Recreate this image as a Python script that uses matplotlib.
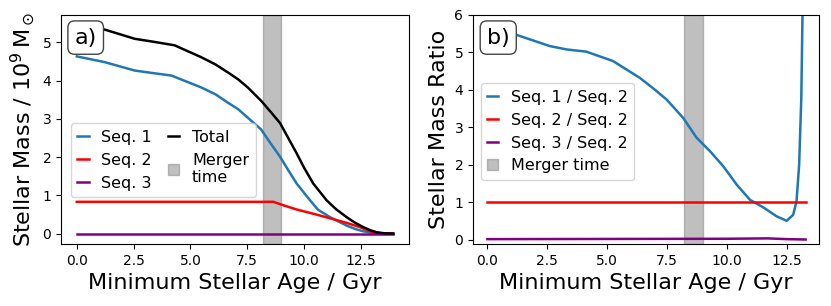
import matplotlib
matplotlib.use("Agg")
import matplotlib.pyplot as plt

# ---- data ----
age_tot = [0.0, 1.23, 2.55, 3.4, 4.3, 5.47, 6.1, 6.65, 7.1, 7.52, 8.11, 8.5, 8.94, 9.3, 9.67, 10.0, 10.4, 10.99, 11.4, 11.87, 12.25, 12.6, 12.9, 13.19, 13.5, 13.92]
total = [5.44, 5.33, 5.09, 5.01, 4.92, 4.61, 4.42, 4.21, 4.03, 3.82, 3.47, 3.20, 2.89, 2.50, 2.10, 1.72, 1.31, 0.87, 0.64, 0.43, 0.28, 0.17, 0.09, 0.035, 0.01, 0.0]

age_s1 = [0.0, 1.23, 2.55, 3.4, 4.16, 5.47, 6.1, 6.65, 7.1, 7.52, 8.11, 8.5, 8.94, 9.3, 9.67, 10.26, 10.62, 11.14, 11.5, 11.87, 12.25, 12.6, 12.9, 13.19, 13.5, 13.92]
seq1 = [4.63, 4.48, 4.26, 4.19, 4.13, 3.82, 3.64, 3.42, 3.25, 3.03, 2.72, 2.38, 2.01, 1.66, 1.31, 0.87, 0.62, 0.43, 0.32, 0.21, 0.12, 0.06, 0.03, 0.01, 0.0, 0.0]

age_s2 = [0.0, 4.0, 8.0, 8.65, 9.09, 9.67, 10.4, 11.14, 11.87, 12.45, 12.9, 13.33, 13.92]
seq2 = [0.83, 0.83, 0.83, 0.83, 0.74, 0.63, 0.52, 0.40, 0.28, 0.17, 0.06, 0.01, 0.0]

age_s3 = [0.0, 13.92]
seq3 = [0.0, 0.0]

age_r1 = [0.0, 1.21, 2.6, 3.3, 4.13, 5.24, 6.36, 6.92, 7.48, 8.17, 8.73, 9.29, 9.84, 10.4, 10.96, 11.51, 12.07, 12.49, 12.76, 12.9, 13.01, 13.1, 13.15, 13.2]
ratio1 = [5.53, 5.47, 5.17, 5.08, 5.02, 4.77, 4.32, 4.04, 3.74, 3.25, 2.72, 2.36, 1.96, 1.47, 1.06, 0.86, 0.62, 0.50, 0.66, 1.02, 2.0, 3.79, 6.02, 9.0]

age_r2 = [0.0, 13.28]
ratio2 = [1.0, 1.0]

age_r3 = [0.0, 5.0, 10.0, 11.7, 12.5, 13.28]
ratio3 = [0.01, 0.015, 0.02, 0.03, 0.01, 0.0]

merger = (8.2, 9.0)

fig = plt.figure(figsize=(8.31, 3.06), dpi=100)
ax1 = fig.add_axes([0.0734, 0.2026, 0.4188, 0.7484])
ax2 = fig.add_axes([0.5692, 0.2026, 0.4167, 0.7484])

lw = 1.8
ax1.plot(age_s1, seq1, color='#1f77b4', lw=lw, label='Seq. 1')
ax1.plot(age_s2, seq2, color='red', lw=lw, label='Seq. 2')
ax1.plot(age_s3, seq3, color='purple', lw=lw, label='Seq. 3')
ax1.plot(age_tot, total, color='black', lw=lw, label='Total')
ax1.axvspan(*merger, color='gray', alpha=0.5, label='Merger\ntime')
ax1.set_xlabel('Minimum Stellar Age / Gyr', fontsize=16)
ax1.set_ylabel(r'Stellar Mass / $10^9\,\mathrm{M}_\odot$', fontsize=16)
ax1.tick_params(labelsize=10)
ax1.set_xticks([0, 2.5, 5, 7.5, 10, 12.5])
ax1.set_yticks([0, 1, 2, 3, 4, 5])
ax1.legend(ncol=2, fontsize=11.5, handlelength=0.7, columnspacing=1.0,
           loc='lower left', bbox_to_anchor=(0.029, 0.205), borderaxespad=0)
ax1.text(0.039, 0.945, 'a)', transform=ax1.transAxes, fontsize=16, va='top', ha='left',
         bbox=dict(boxstyle='round,pad=0.3', fc='white', ec='#444444'))

ax2.plot(age_r1, ratio1, color='#1f77b4', lw=lw, label='Seq. 1 / Seq. 2')
ax2.plot(age_r2, ratio2, color='red', lw=lw, label='Seq. 2 / Seq. 2')
ax2.plot(age_r3, ratio3, color='purple', lw=lw, label='Seq. 3 / Seq. 2')
ax2.axvspan(*merger, color='gray', alpha=0.5, label='Merger time')
ax2.set_ylim(-0.12, 6)
ax2.set_xlim(-0.6, 13.85)
ax2.set_xlabel('Minimum Stellar Age / Gyr', fontsize=16)
ax2.set_ylabel('Stellar Mass Ratio', fontsize=16)
ax2.tick_params(labelsize=10)
ax2.set_xticks([0, 2.5, 5, 7.5, 10, 12.5])
ax2.legend(fontsize=11.5, handlelength=0.7, loc='lower left',
           bbox_to_anchor=(0.022, 0.28), borderaxespad=0)
ax2.text(0.04, 0.945, 'b)', transform=ax2.transAxes, fontsize=16, va='top', ha='left',
         bbox=dict(boxstyle='round,pad=0.3', fc='white', ec='#444444'))

fig.savefig('out.png', dpi=100)
